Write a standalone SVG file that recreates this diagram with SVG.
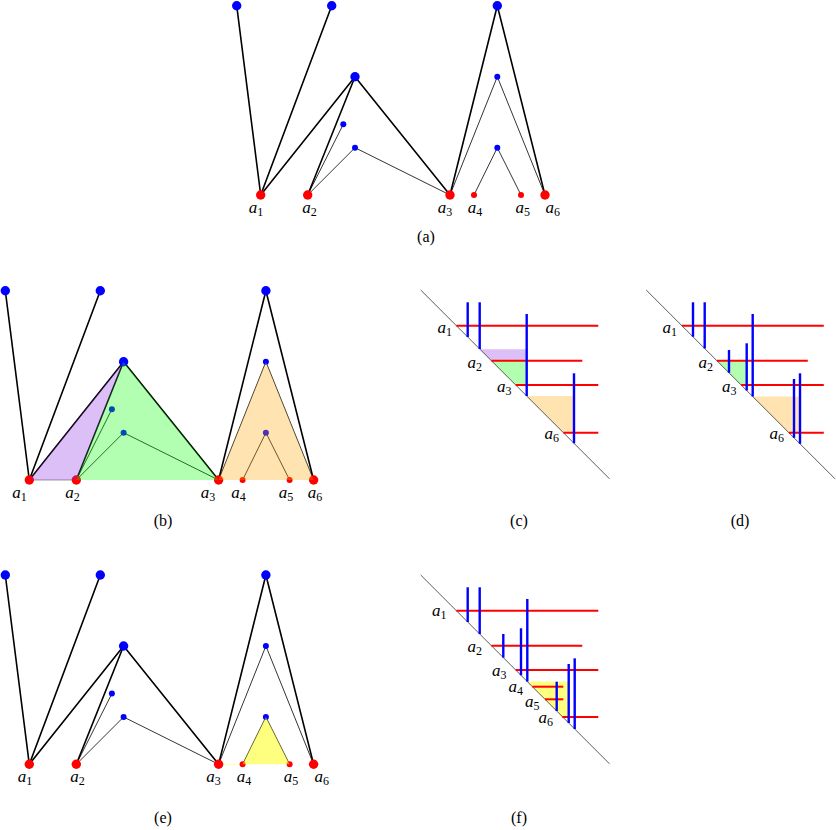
<svg xmlns="http://www.w3.org/2000/svg" width="836" height="830" viewBox="0 0 836 830">
<style>
.thk{stroke:#000;stroke-width:1.6;fill:none;stroke-linecap:round}
.thn{stroke:#000;stroke-width:0.8;fill:none;stroke-linecap:round}
.rd{fill:#ff0000}
.bl{fill:#0000ff}
.lbl{font-family:"Liberation Serif","Times New Roman",serif;font-size:17px;font-style:italic;fill:#000}
.sub{font-size:12px;font-style:normal}
.cap{font-family:"Liberation Serif","Times New Roman",serif;font-size:16px;fill:#000;text-anchor:middle}
.diag{stroke:#333;stroke-width:0.8;fill:none}
.rl{stroke:#ff0000;stroke-width:2;fill:none}
.bv{stroke:#0000ff;stroke-width:2.4;fill:none}
.fp{fill:#8a2be2;fill-opacity:0.3}
.fg{fill:#00ff00;fill-opacity:0.3}
.fo{fill:#ffa500;fill-opacity:0.3}
.fy{fill:#ffff00;fill-opacity:0.5}
</style>

<!-- Panel (a) -->
<g id="panel-a" transform="translate(260.7,195)">
  <g id="a-edges">
    <line class="thk" x1="0" y1="0" x2="-24" y2="-189.3"/>
    <line class="thk" x1="0" y1="0" x2="71" y2="-189.3"/>
    <line class="thk" x1="0" y1="0" x2="94.3" y2="-118.3"/>
    <line class="thk" x1="47" y1="0" x2="94.3" y2="-118.3"/>
    <line class="thk" x1="94.3" y1="-118.3" x2="189.3" y2="0"/>
    <line class="thk" x1="189.3" y1="0" x2="236.6" y2="-189.3"/>
    <line class="thk" x1="236.6" y1="-189.3" x2="284.3" y2="0"/>
    <line class="thn" x1="47" y1="0" x2="82.6" y2="-70.7"/>
    <line class="thn" x1="47" y1="0" x2="94.3" y2="-47.3"/>
    <line class="thn" x1="94.3" y1="-47.3" x2="189.3" y2="0"/>
    <line class="thn" x1="189.3" y1="0" x2="236.6" y2="-118.3"/>
    <line class="thn" x1="236.6" y1="-118.3" x2="284.3" y2="0"/>
    <line class="thn" x1="213.3" y1="0" x2="236.6" y2="-47.3"/>
    <line class="thn" x1="236.6" y1="-47.3" x2="260.3" y2="0"/>
  </g>
  <g id="a-T1"><circle class="bl" cx="-24" cy="-189.3" r="4.7"/></g>
  <g id="a-T2"><circle class="bl" cx="71" cy="-189.3" r="4.7"/></g>
  <g id="a-T3"><circle class="bl" cx="236.6" cy="-189.3" r="4.7"/></g>
  <g id="a-M"><circle class="bl" cx="94.3" cy="-118.3" r="4.7"/></g>
  <g id="a-S1"><circle class="bl" cx="82.6" cy="-70.7" r="3"/></g>
  <g id="a-S2"><circle class="bl" cx="94.3" cy="-47.3" r="3"/></g>
  <g id="a-S3"><circle class="bl" cx="236.6" cy="-118.3" r="3"/></g>
  <g id="a-S4"><circle class="bl" cx="236.6" cy="-47.3" r="3"/></g>
  <g id="a-A1"><circle class="rd" cx="0" cy="0" r="4.7"/><text class="lbl" x="-12" y="18">a<tspan class="sub" dy="3">1</tspan></text></g>
  <g id="a-A2"><circle class="rd" cx="47" cy="0" r="4.7"/><text class="lbl" x="41.5" y="18">a<tspan class="sub" dy="3">2</tspan></text></g>
  <g id="a-A3"><circle class="rd" cx="189.3" cy="0" r="4.7"/><text class="lbl" x="177" y="18">a<tspan class="sub" dy="3">3</tspan></text></g>
  <g id="a-A4"><circle class="rd" cx="213.3" cy="0" r="3"/><text class="lbl" x="207" y="18">a<tspan class="sub" dy="3">4</tspan></text></g>
  <g id="a-A5"><circle class="rd" cx="260.3" cy="0" r="3"/><text class="lbl" x="254.8" y="18">a<tspan class="sub" dy="3">5</tspan></text></g>
  <g id="a-A6"><circle class="rd" cx="284.3" cy="0" r="4.7"/><text class="lbl" x="284.8" y="18">a<tspan class="sub" dy="3">6</tspan></text></g>
</g>
<text class="cap" x="426" y="242">(a)</text>

<!-- Panel (b) -->
<g id="panel-b" transform="translate(29.3,480)">
  <g id="b-edges">
    <line x1="0" y1="0" x2="47" y2="0" stroke="#bbbbbb" stroke-width="1.5"/>
    <line class="thk" x1="0" y1="0" x2="-24" y2="-189.3"/>
    <line class="thk" x1="0" y1="0" x2="71" y2="-189.3"/>
    <line class="thk" x1="0" y1="0" x2="94.3" y2="-118.3"/>
    <line class="thk" x1="47" y1="0" x2="94.3" y2="-118.3"/>
    <line class="thk" x1="94.3" y1="-118.3" x2="189.3" y2="0"/>
    <line class="thk" x1="189.3" y1="0" x2="236.6" y2="-189.3"/>
    <line class="thk" x1="236.6" y1="-189.3" x2="284.3" y2="0"/>
    <line class="thn" x1="47" y1="0" x2="82.6" y2="-70.7"/>
    <line class="thn" x1="47" y1="0" x2="94.3" y2="-47.3"/>
    <line class="thn" x1="94.3" y1="-47.3" x2="189.3" y2="0"/>
    <line class="thn" x1="189.3" y1="0" x2="236.6" y2="-118.3"/>
    <line class="thn" x1="236.6" y1="-118.3" x2="284.3" y2="0"/>
    <line class="thn" x1="213.3" y1="0" x2="236.6" y2="-47.3"/>
    <line class="thn" x1="236.6" y1="-47.3" x2="260.3" y2="0"/>
  </g>
  <g id="b-T1"><circle class="bl" cx="-24" cy="-189.3" r="4.7"/></g>
  <g id="b-T2"><circle class="bl" cx="71" cy="-189.3" r="4.7"/></g>
  <g id="b-T3"><circle class="bl" cx="236.6" cy="-189.3" r="4.7"/></g>
  <g id="b-M"><circle class="bl" cx="94.3" cy="-118.3" r="4.7"/></g>
  <g id="b-S1"><circle class="bl" cx="82.6" cy="-70.7" r="3"/></g>
  <g id="b-S2"><circle class="bl" cx="94.3" cy="-47.3" r="3"/></g>
  <g id="b-S3"><circle class="bl" cx="236.6" cy="-118.3" r="3"/></g>
  <g id="b-S4"><circle class="bl" cx="236.6" cy="-47.3" r="3"/></g>
  <g id="b-A1"><circle class="rd" cx="0" cy="0" r="4.7"/><text class="lbl" x="-17" y="18">a<tspan class="sub" dy="3">1</tspan></text></g>
  <g id="b-A2"><circle class="rd" cx="47" cy="0" r="4.7"/><text class="lbl" x="36" y="18">a<tspan class="sub" dy="3">2</tspan></text></g>
  <g id="b-A3"><circle class="rd" cx="189.3" cy="0" r="4.7"/><text class="lbl" x="171.5" y="18">a<tspan class="sub" dy="3">3</tspan></text></g>
  <g id="b-A4"><circle class="rd" cx="213.3" cy="0" r="3"/><text class="lbl" x="202" y="18">a<tspan class="sub" dy="3">4</tspan></text></g>
  <g id="b-A5"><circle class="rd" cx="260.3" cy="0" r="3"/><text class="lbl" x="249.5" y="18">a<tspan class="sub" dy="3">5</tspan></text></g>
  <g id="b-A6"><circle class="rd" cx="284.3" cy="0" r="4.7"/><text class="lbl" x="278.5" y="18">a<tspan class="sub" dy="3">6</tspan></text></g>
  <g id="b-fills">
    <polygon class="fp" points="0,0 94.3,-118.3 47,0"/>
    <polygon class="fg" points="47,0 94.3,-118.3 189.3,0"/>
    <polygon class="fo" points="189.3,0 236.6,-118.3 284.3,0"/>
  </g>
</g>
<text class="cap" x="163" y="526">(b)</text>

<!-- Panel (c) -->
<g id="panel-c">
  <polygon class="fp" points="479.7,349.3 526.7,349.3 526.7,360.7 491.4,360.7"/>
  <polygon class="fg" points="491.4,360.7 526.7,360.7 526.7,385 515.7,385"/>
  <polygon class="fo" points="526.7,396 574,396 574,432.7 563.4,432.7"/>
  <line class="diag" x1="420.7" y1="290" x2="609.5" y2="478.8"/>
  <line class="rl" x1="456.4" y1="325.7" x2="598.3" y2="325.7"/>
  <line class="rl" x1="491.4" y1="360.7" x2="582.3" y2="360.7"/>
  <line class="rl" x1="515.7" y1="385" x2="598.3" y2="385"/>
  <line class="rl" x1="563.4" y1="432.7" x2="598.3" y2="432.7"/>
  <line class="bv" x1="467.7" y1="302.3" x2="467.7" y2="337"/>
  <line class="bv" x1="479.7" y1="302.3" x2="479.7" y2="349"/>
  <line class="bv" x1="526.7" y1="314" x2="526.7" y2="396"/>
  <line class="bv" x1="574" y1="373.3" x2="574" y2="443.3"/>
  <text class="lbl" x="437.5" y="333">a<tspan class="sub" dy="3">1</tspan></text>
  <text class="lbl" x="467.5" y="368">a<tspan class="sub" dy="3">2</tspan></text>
  <text class="lbl" x="497" y="392">a<tspan class="sub" dy="3">3</tspan></text>
  <text class="lbl" x="544.5" y="439">a<tspan class="sub" dy="3">6</tspan></text>
</g>
<text class="cap" x="519" y="526">(c)</text>

<!-- Panel (d) -->
<g id="panel-d">
  <polygon class="fg" points="716.9,360.7 746.7,360.7 746.7,385 741.2,385"/>
  <polygon class="fo" points="752.7,396.5 800,396.5 800,432.7 788.9,432.7"/>
  <line class="diag" x1="646.2" y1="290" x2="835" y2="478.8"/>
  <line class="rl" x1="681.9" y1="325.7" x2="823.8" y2="325.7"/>
  <line class="rl" x1="716.9" y1="360.7" x2="807.8" y2="360.7"/>
  <line class="rl" x1="741.2" y1="385" x2="823.8" y2="385"/>
  <line class="rl" x1="788.9" y1="432.7" x2="823.8" y2="432.7"/>
  <line class="bv" x1="693" y1="302.3" x2="693" y2="336.8"/>
  <line class="bv" x1="704.7" y1="302.3" x2="704.7" y2="348.5"/>
  <line class="bv" x1="729" y1="350" x2="729" y2="372.8"/>
  <line class="bv" x1="746.7" y1="343.3" x2="746.7" y2="390.5"/>
  <line class="bv" x1="752.7" y1="314" x2="752.7" y2="396.5"/>
  <line class="bv" x1="794" y1="379" x2="794" y2="437.8"/>
  <line class="bv" x1="800" y1="373.3" x2="800" y2="443.8"/>
  <text class="lbl" x="662.5" y="333">a<tspan class="sub" dy="3">1</tspan></text>
  <text class="lbl" x="698.5" y="368">a<tspan class="sub" dy="3">2</tspan></text>
  <text class="lbl" x="722" y="392">a<tspan class="sub" dy="3">3</tspan></text>
  <text class="lbl" x="769.5" y="439">a<tspan class="sub" dy="3">6</tspan></text>
</g>
<text class="cap" x="740" y="526">(d)</text>

<!-- Panel (e) -->
<g id="panel-e" transform="translate(29.3,764.3)">
  <g id="e-edges">
    <line x1="189.3" y1="0" x2="213.3" y2="0" stroke="#ffffaa" stroke-width="1"/>
    <line class="thk" x1="0" y1="0" x2="-24" y2="-189.3"/>
    <line class="thk" x1="0" y1="0" x2="71" y2="-189.3"/>
    <line class="thk" x1="0" y1="0" x2="94.3" y2="-118.3"/>
    <line class="thk" x1="47" y1="0" x2="94.3" y2="-118.3"/>
    <line class="thk" x1="94.3" y1="-118.3" x2="189.3" y2="0"/>
    <line class="thk" x1="189.3" y1="0" x2="236.6" y2="-189.3"/>
    <line class="thk" x1="236.6" y1="-189.3" x2="284.3" y2="0"/>
    <line class="thn" x1="47" y1="0" x2="82.6" y2="-70.7"/>
    <line class="thn" x1="47" y1="0" x2="94.3" y2="-47.3"/>
    <line class="thn" x1="94.3" y1="-47.3" x2="189.3" y2="0"/>
    <line class="thn" x1="189.3" y1="0" x2="236.6" y2="-118.3"/>
    <line class="thn" x1="236.6" y1="-118.3" x2="284.3" y2="0"/>
    <line class="thn" x1="213.3" y1="0" x2="236.6" y2="-47.3"/>
    <line class="thn" x1="236.6" y1="-47.3" x2="260.3" y2="0"/>
  </g>
  <g id="e-T1"><circle class="bl" cx="-24" cy="-189.3" r="4.7"/></g>
  <g id="e-T2"><circle class="bl" cx="71" cy="-189.3" r="4.7"/></g>
  <g id="e-T3"><circle class="bl" cx="236.6" cy="-189.3" r="4.7"/></g>
  <g id="e-M"><circle class="bl" cx="94.3" cy="-118.3" r="4.7"/></g>
  <g id="e-S1"><circle class="bl" cx="82.6" cy="-70.7" r="3"/></g>
  <g id="e-S2"><circle class="bl" cx="94.3" cy="-47.3" r="3"/></g>
  <g id="e-S3"><circle class="bl" cx="236.6" cy="-118.3" r="3"/></g>
  <g id="e-S4"><circle class="bl" cx="236.6" cy="-47.3" r="3"/></g>
  <g id="e-A1"><circle class="rd" cx="0" cy="0" r="4.7"/><text class="lbl" x="-11.5" y="18">a<tspan class="sub" dy="3">1</tspan></text></g>
  <g id="e-A2"><circle class="rd" cx="47" cy="0" r="4.7"/><text class="lbl" x="41" y="18">a<tspan class="sub" dy="3">2</tspan></text></g>
  <g id="e-A3"><circle class="rd" cx="189.3" cy="0" r="4.7"/><text class="lbl" x="177" y="18">a<tspan class="sub" dy="3">3</tspan></text></g>
  <g id="e-A4"><circle class="rd" cx="213.3" cy="0" r="3"/><text class="lbl" x="207.5" y="18">a<tspan class="sub" dy="3">4</tspan></text></g>
  <g id="e-A5"><circle class="rd" cx="260.3" cy="0" r="3"/><text class="lbl" x="254.5" y="18">a<tspan class="sub" dy="3">5</tspan></text></g>
  <g id="e-A6"><circle class="rd" cx="284.3" cy="0" r="4.7"/><text class="lbl" x="285.2" y="18">a<tspan class="sub" dy="3">6</tspan></text></g>
  <g id="e-fills">
    <polygon class="fy" points="213.3,0 236.6,-47.3 260.3,0"/>
  </g>
</g>
<text class="cap" x="163" y="823">(e)</text>

<!-- Panel (f) -->
<g id="panel-f">
  <polygon class="fy" points="527.3,681.6 568.7,681.6 568.7,717 562.3,717"/>
  <line class="diag" x1="420.7" y1="575" x2="609.5" y2="763.8"/>
  <line class="rl" x1="456.4" y1="610.7" x2="598.3" y2="610.7"/>
  <line class="rl" x1="491.4" y1="645.7" x2="582.3" y2="645.7"/>
  <line class="rl" x1="515.7" y1="670" x2="598.3" y2="670"/>
  <line class="rl" x1="532.4" y1="686.7" x2="563.3" y2="686.7"/>
  <line class="rl" x1="545" y1="699.3" x2="563.3" y2="699.3"/>
  <line class="rl" x1="562.3" y1="717" x2="598.3" y2="717"/>
  <line class="bv" x1="467.7" y1="587.3" x2="467.7" y2="622"/>
  <line class="bv" x1="479.7" y1="587.3" x2="479.7" y2="634"/>
  <line class="bv" x1="503.3" y1="634" x2="503.3" y2="657.6"/>
  <line class="bv" x1="521" y1="628.3" x2="521" y2="675.3"/>
  <line class="bv" x1="527.3" y1="599" x2="527.3" y2="681.6"/>
  <line class="bv" x1="556.7" y1="681.7" x2="556.7" y2="711"/>
  <line class="bv" x1="568.7" y1="664" x2="568.7" y2="723"/>
  <line class="bv" x1="574.7" y1="658.3" x2="574.7" y2="729"/>
  <text class="lbl" x="432" y="616">a<tspan class="sub" dy="3">1</tspan></text>
  <text class="lbl" x="467.5" y="652">a<tspan class="sub" dy="3">2</tspan></text>
  <text class="lbl" x="492" y="676">a<tspan class="sub" dy="3">3</tspan></text>
  <text class="lbl" x="508.5" y="692">a<tspan class="sub" dy="2.5">4</tspan></text>
  <text class="lbl" x="525" y="707">a<tspan class="sub" dy="3">5</tspan></text>
  <text class="lbl" x="538.5" y="723">a<tspan class="sub" dy="3">6</tspan></text>
</g>
<text class="cap" x="519" y="823">(f)</text>
</svg>
